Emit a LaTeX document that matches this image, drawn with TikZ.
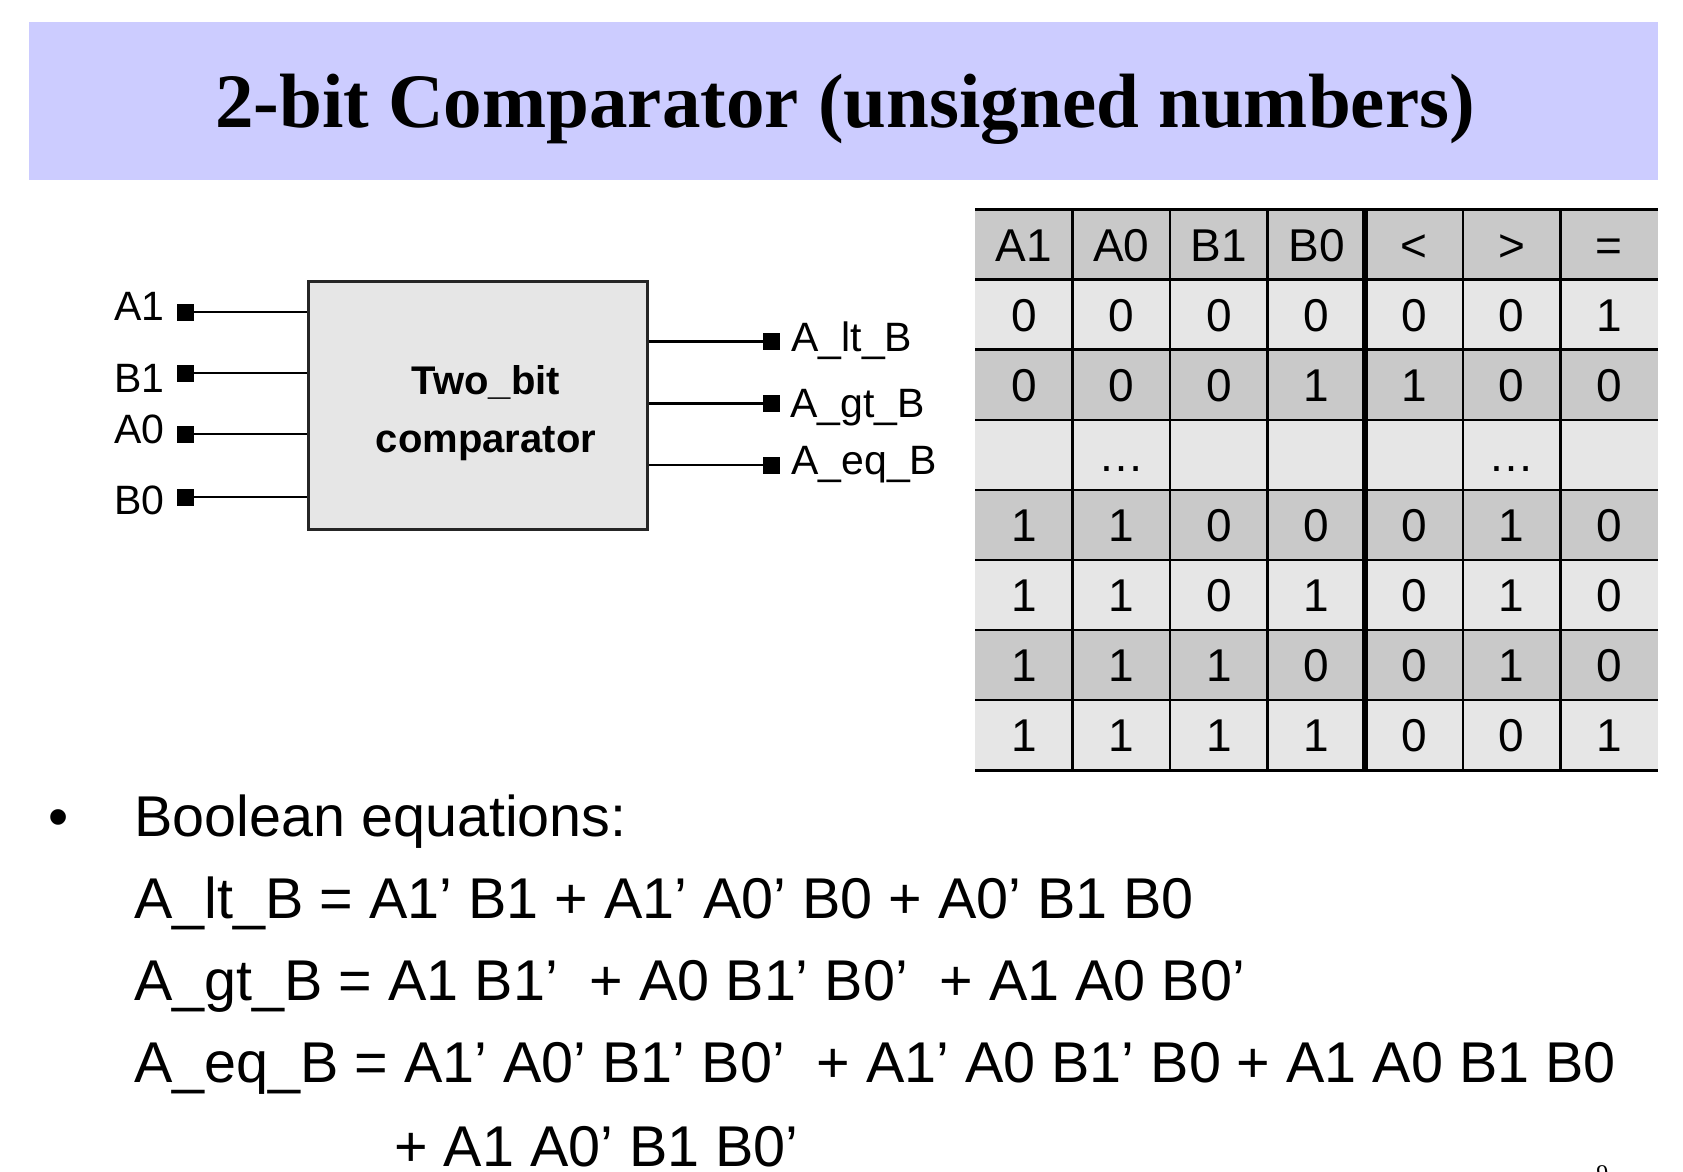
\documentclass[tikz,border=0pt]{standalone}
\usepackage{fontspec}
\setmainfont{Liberation Sans}
\newfontfamily\titlefont{Liberation Serif}
\definecolor{barcol}{RGB}{204,204,255}
\definecolor{boxfill}{RGB}{230,230,230}
\definecolor{darkrow}{RGB}{201,201,201}
\definecolor{lightrow}{RGB}{230,230,230}
\tikzset{
  lbl/.style={font=\fontsize{20.5pt}{24pt}\selectfont, inner sep=0pt, anchor=base west},
  pinsq/.style={fill=black, minimum size=8.5pt, inner sep=0pt},
  wire/.style={line width=1.3pt},
  cell/.style={font=\fontsize{23pt}{26pt}\selectfont, inner sep=0pt, anchor=base},
  eqn/.style={font=\fontsize{28.75pt}{34pt}\selectfont, inner sep=0pt, anchor=base west},
  boxtext/.style={font=\bfseries\fontsize{20pt}{24pt}\selectfont, inner sep=0pt, anchor=base},
  tline/.style={line width=1.25pt},
  tthick/.style={line width=3pt},
}
\begin{document}
\begin{tikzpicture}[x=0.5pt,y=-0.5pt]
\useasboundingbox (0,0) rectangle (1683,1172);
% title bar
\fill[barcol] (29,22) rectangle (1658,180);
\node[font=\titlefont\bfseries\fontsize{38.5pt}{44pt}\selectfont, anchor=base, inner sep=0pt] (title) at (845,128) {2-bit Comparator (unsigned numbers)};

% block
\node[draw=black!85, line width=1.5pt, fill=boxfill, minimum width=169.5pt, minimum height=124pt, inner sep=0pt] (box) at (478,405) {};
\node[boxtext] (bt1) at (486,394) {Two\_bit};
\node[boxtext] (bt2) at (486,452) {comparator};

% input pins
\node[pinsq] (pA1) at (185.5,312) {};
\node[pinsq] (pB1) at (185.5,373) {};
\node[pinsq] (pA0) at (185.5,434) {};
\node[pinsq] (pB0) at (185.5,497) {};
\foreach \p in {pA1,pB1,pA0,pB0}
  \draw[wire] (\p.center) -- (\p -| box.west);
\node[lbl] (lA1) at (114,320) {A1};
\node[lbl] (lB1) at (114,392) {B1};
\node[lbl] (lA0) at (114,443) {A0};
\node[lbl] (lB0) at (114,514) {B0};

% output pins
\node[pinsq] (plt) at (771.5,341.7) {};
\node[pinsq] (pgt) at (771.5,403.3) {};
\node[pinsq] (peq) at (771.5,465) {};
\foreach \p in {plt,pgt,peq}
  \draw[wire] (\p -| box.east) -- (\p.center);
\node[lbl] (llt) at (791,351) {A\_lt\_B};
\node[lbl] (lgt) at (790,417) {A\_gt\_B};
\node[lbl] (leq) at (791,474) {A\_eq\_B};

% truth table
\def\tx{975}\def\tw{97.57}\def\ty{209.5}\def\th{70.1}
\foreach \r in {0,...,7}{
  \pgfmathsetmacro{\ya}{\ty+\th*\r}
  \pgfmathsetmacro{\yb}{\ty+\th*(\r+1)}
  \pgfmathparse{mod(\r,2)==0 ? "darkrow" : "lightrow"}
  \fill[\pgfmathresult] (\tx,\ya) rectangle (1658,\yb);
}
\foreach \r in {0,...,8}{
  \pgfmathsetmacro{\ya}{\ty+\th*\r}
  \draw[tline] (\tx,\ya) -- (1658,\ya);
}
\foreach \k in {1,2,3,5,6}{
  \draw[tline] ({\tx+\tw*\k},\ty) -- ({\tx+\tw*\k},{\ty+8*\th});
}
\draw[tthick] ({\tx+\tw*4},\ty) -- ({\tx+\tw*4},{\ty+8*\th});

\foreach \v [count=\c] in {A1,A0,B1,B0,<,>,=}
  \node[cell] (h\c) at ({\tx+\tw*(\c-0.5)},{\ty+\th*0.5+16.5}) {\v};
\foreach \v [count=\c] in {0,0,0,0,0,0,1}
  \node[cell] (ra\c) at ({\tx+\tw*(\c-0.5)},{\ty+\th*1.5+16.5}) {\v};
\foreach \v [count=\c] in {0,0,0,1,1,0,0}
  \node[cell] (rb\c) at ({\tx+\tw*(\c-0.5)},{\ty+\th*2.5+16.5}) {\v};
\node[cell] (rc2) at ({\tx+\tw*1.5},{\ty+\th*3.5+16.5}) {…};
\node[cell] (rc6) at ({\tx+\tw*5.5},{\ty+\th*3.5+16.5}) {…};
\foreach \v [count=\c] in {1,1,0,0,0,1,0}
  \node[cell] (rd\c) at ({\tx+\tw*(\c-0.5)},{\ty+\th*4.5+16.5}) {\v};
\foreach \v [count=\c] in {1,1,0,1,0,1,0}
  \node[cell] (re\c) at ({\tx+\tw*(\c-0.5)},{\ty+\th*5.5+16.5}) {\v};
\foreach \v [count=\c] in {1,1,1,0,0,1,0}
  \node[cell] (rf\c) at ({\tx+\tw*(\c-0.5)},{\ty+\th*6.5+16.5}) {\v};
\foreach \v [count=\c] in {1,1,1,1,0,0,1}
  \node[cell] (rg\c) at ({\tx+\tw*(\c-0.5)},{\ty+\th*7.5+16.5}) {\v};

% equations
\node[eqn] (bul) at (48,836) {•};
\node[eqn] (bool) at (134,836) {Boolean equations:};
\node[eqn] (eq1) at (134,918) {A\_lt\_B = A1’ B1 + A1’ A0’ B0 + A0’ B1 B0};
\node[eqn] (eq2) at (134,1000) {A\_gt\_B = A1 B1’\ \ + A0 B1’ B0’\ \ + A1 A0 B0’};
\node[eqn] (eq3) at (134,1082) {A\_eq\_B = A1’ A0’ B1’ B0’\ \ + A1’ A0 B1’ B0 + A1 A0 B1 B0};
\node[eqn] (eq4) at (394,1166) {+ A1 A0’ B1 B0’};
\node[font=\titlefont\fontsize{12pt}{14pt}\selectfont, anchor=base west, inner sep=0pt] (pgno) at (1596,1181) {9};
\end{tikzpicture}
\end{document}
